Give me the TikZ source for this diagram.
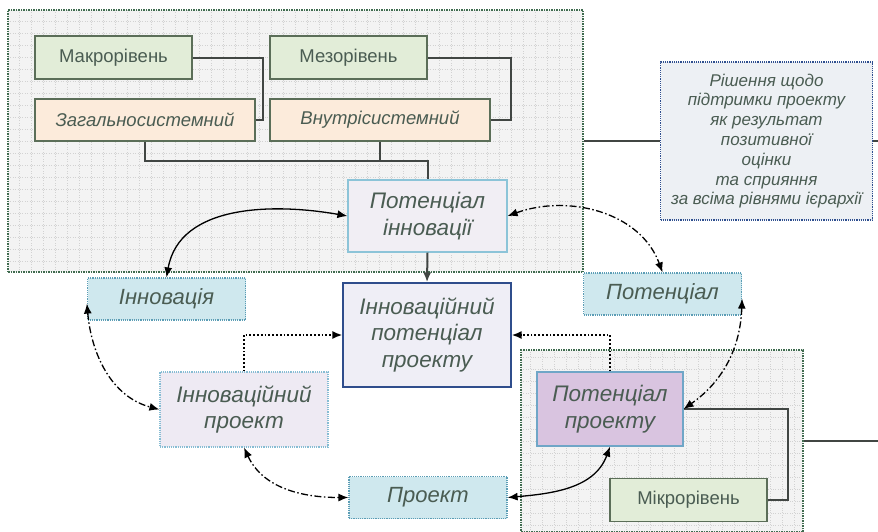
\documentclass[tikz,border=0pt]{standalone}
\usepackage{fontspec}
\setmainfont{Liberation Sans}
\usetikzlibrary{arrows.meta}

\definecolor{txtcol}{HTML}{4A5C52}
\definecolor{contfill}{HTML}{F3F3F3}
\definecolor{contline}{HTML}{3F6B4F}
\definecolor{gridcol}{HTML}{D2D2D2}
\definecolor{levelfill}{HTML}{E2EDD8}
\definecolor{levelline}{HTML}{5B6E58}
\definecolor{scopefill}{HTML}{FCEBDB}
\definecolor{potfill}{HTML}{F1EEF4}
\definecolor{potline}{HTML}{8CC4D8}
\definecolor{ippfill}{HTML}{EFEEF6}
\definecolor{ippline}{HTML}{2F4D8C}
\definecolor{conceptfill}{HTML}{CFE8EE}
\definecolor{conceptline}{HTML}{5B9DB5}
\definecolor{iprfill}{HTML}{EEEAF3}
\definecolor{iprline}{HTML}{86BCD3}
\definecolor{potprfill}{HTML}{D9C4E0}
\definecolor{potprline}{HTML}{6FA6C7}
\definecolor{rishfill}{HTML}{EDF0F4}
\definecolor{rishline}{HTML}{2F4F8F}
\definecolor{wirecol}{HTML}{414643}

\begin{document}
\begin{tikzpicture}[x=1pt,y=1pt,
  >={Latex[length=10pt,width=8pt]},
  gridded/.style={path picture={\draw[gridcol,line width=0.4pt,dotted]
    (path picture bounding box.south west) grid[step=12pt]
    (path picture bounding box.north east);}},
  container/.style={draw=contline,fill=contfill,densely dotted,line width=1.5pt,
    gridded,inner sep=0pt,anchor=center},
  box/.style={draw,line width=1.2pt,inner sep=2pt,anchor=center,
    align=center,text=txtcol},
  level box/.style={box,fill=levelfill,draw=levelline,
    minimum width=157pt,minimum height=43pt,font=\fontsize{18.5}{22}\selectfont},
  scope box/.style={box,fill=scopefill,draw=levelline,
    minimum width=220pt,minimum height=42pt,font=\fontsize{18.5}{22}\selectfont\itshape},
  concept box/.style={box,fill=conceptfill,draw=conceptline,densely dotted,
    minimum width=158pt,minimum height=42pt,font=\fontsize{22}{26}\selectfont\itshape},
  big box/.style={box,font=\fontsize{22.5}{26.5}\selectfont\itshape},
  wire/.style={draw=wirecol,line width=2pt},
  link/.style={<->,line width=1.3pt,black},
  link dashdot/.style={link,dash pattern=on 7pt off 2.5pt on 1.5pt off 2.5pt},
  link dotted/.style={->,line width=1.8pt,black,dotted}]
 \useasboundingbox (0,0) rectangle (878,-531);

 \node[container,minimum width=575pt,minimum height=262pt] (topbox) at (295.5,-141) {};
 \node[container,minimum width=282pt,minimum height=182pt] (botbox) at (662,-441) {};

 \node[level box] (makro) at (113.5,-57.5) {Макрорівень};
 \node[level box] (mezo) at (348.5,-57.5) {Мезорівень};
 \node[scope box] (zahal) at (145,-120) {Загальносистемний};
 \node[scope box] (vnutr) at (380,-120) {Внутрісистемний};
 \node[big box,fill=potfill,draw=potline,minimum width=159pt,minimum height=72pt]
  (potinn) at (427.5,-216) {Потенціал\\інновації};
 \node[big box,fill=ippfill,draw=ippline,minimum width=168pt,minimum height=104pt]
  (ipp) at (427,-335) {Інноваційний\\потенціал\\проекту};
 \node[box,fill=rishfill,draw=rishline,densely dotted,minimum width=212pt,
  minimum height=158pt,font=\fontsize{17}{19.8}\selectfont\itshape]
  (rish) at (766.5,-141) {Рішення щодо\\підтримки проекту\\як результат\\позитивної\\оцінки\\та сприяння\\за всіма рівнями ієрархії};
 \node[concept box] (innov) at (166.5,-299) {Інновація};
 \node[concept box] (poten) at (662.5,-294) {Потенціал};
 \node[big box,fill=iprfill,draw=iprline,densely dotted,minimum width=168pt,
  minimum height=75pt] (iproekt) at (244,-409.5) {Інноваційний\\проект};
 \node[concept box] (proekt) at (428,-497.5) {Проект};
 \node[big box,fill=potprfill,draw=potprline,minimum width=146pt,minimum height=74pt]
  (potpr) at (610,-409) {Потенціал\\проекту};
 \node[level box] (mikro) at (688.5,-500) {Мікрорівень};

 \coordinate (outtop) at (878,-141);
 \coordinate (outbot) at (878,-441);

 \draw[wire] (makro.east) -- ++(70,0) |- (zahal.east);
 \draw[wire] (mezo.east) -- ++(83,0) |- (vnutr.east);
 \draw[wire] (zahal.south) -- ++(0,-19) -| (potinn.north);
 \draw[wire] (vnutr.south) -- ++(0,-19);
 \draw[wire,->] (potinn.south) -- (ipp.north);
 \draw[wire] (mikro.east) -- ++(20,0) |- (potpr.east);
 \draw[wire] (topbox.east) -- (rish.west);
 \draw[wire] (rish.east) -- (outtop);
 \draw[wire] (botbox.east) -- (outbot);

 \draw[link dotted] (iproekt.north) |- (ipp.west);
 \draw[link dotted] (potpr.north) |- (ipp.east);

 \draw[link] (innov.north) to[out=80,in=170] (potinn.west);
 \draw[link dashdot] (potinn.east) to[out=20,in=110] (poten.north);
 \draw[link dashdot] ([yshift=17pt]innov.south west) to[out=-85,in=165] (iproekt.west);
 \draw[link dashdot] (iproekt.south) to[out=-65,in=180] (proekt.west);
 \draw[link] (proekt.east) to[out=5,in=-110] (potpr.south);
 \draw[link dashdot] ([yshift=17pt]poten.south east) to[out=-92,in=35] (potpr.east);
\end{tikzpicture}
\end{document}
